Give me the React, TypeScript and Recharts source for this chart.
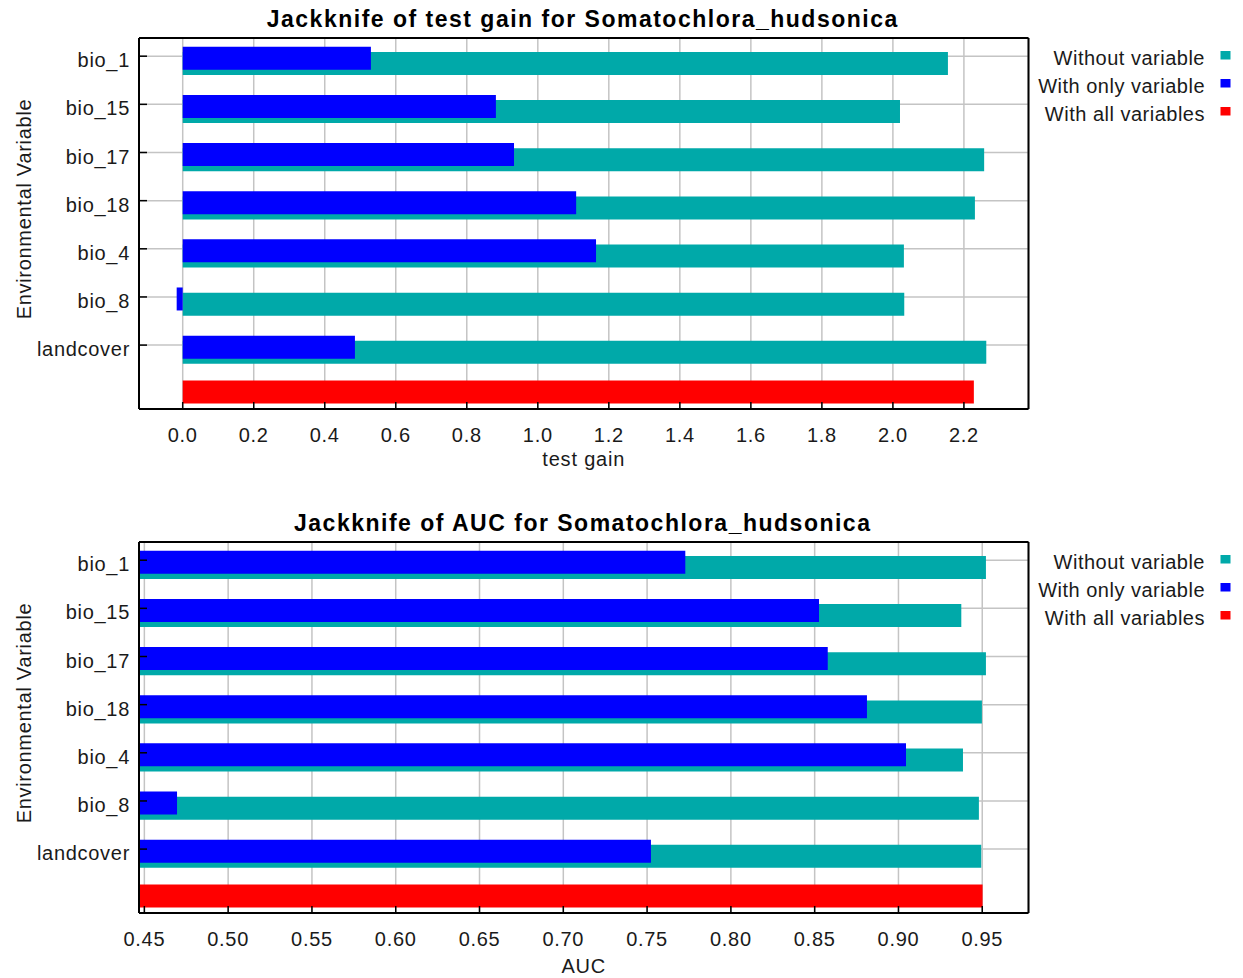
import React from 'react';
import { BarChart, Bar, XAxis, YAxis, CartesianGrid, Legend } from 'recharts';

// Variables in plot order (top to bottom); the last row holds the "all variables" bar
const variables = ['bio_1', 'bio_15', 'bio_17', 'bio_18', 'bio_4', 'bio_8', 'landcover'];
const ALL_ROW = 'all';
const seriesNames = ['Without variable', 'With only variable', 'With all variables'];

// Test gain jackknife
const gainWithout = [2.155, 2.02, 2.257, 2.231, 2.031, 2.032, 2.263];
const gainOnly = [0.53, 0.882, 0.933, 1.108, 1.164, -0.017, 0.485];
const gainAll = 2.228;
const gainTicks = [0, 0.2, 0.4, 0.6, 0.8, 1.0, 1.2, 1.4, 1.6, 1.8, 2.0, 2.2];
const gainDomain = [-0.1231, 2.3819];

// AUC jackknife
const aucWithout = [0.9522, 0.9375, 0.9522, 0.9498, 0.9385, 0.948, 0.9494];
const aucOnly = [0.7728, 0.8526, 0.8578, 0.8812, 0.9045, 0.4695, 0.7523];
const aucAll = 0.9502;
const aucTicks = [0.45, 0.5, 0.55, 0.6, 0.65, 0.7, 0.75, 0.8, 0.85, 0.9, 0.95];
const aucDomain = [0.4468, 0.9776];

const TEAL = '#00a9a9';
const BLUE = '#0000ff';
const RED = '#ff0000';
const FONT = '"Liberation Sans", Arial, Helvetica, sans-serif';

// band offsets (px) so the bar pairs sit like the original plot
const PAD_MAIN = { top: -5.875, bottom: -8.325 };
const PAD_BLUE = { top: -4.275, bottom: -9.925 };
const PAD_TEAL = { top: 0.925, bottom: -15.125 };
const PAD_RED = { top: -7.625, bottom: -6.575 };

function buildRows(without: number[], only: number[], all: number) {
  const rows: any[] = variables.map((name, i) => ({ name, without: without[i], only: only[i] }));
  rows.push({ name: ALL_ROW, all });
  return rows;
}

const renderLegend = (props: any) => {
  const payload = [...(props.payload || [])].sort(
    (a: any, b: any) => seriesNames.indexOf(a.value) - seriesNames.indexOf(b.value)
  );
  return (
    <svg width={243} height={130} style={{ display: 'block' }}>
      {payload.map((p: any, i: number) => (
        <g key={p.value}>
          <text
            x={205}
            y={65 + 28 * i}
            textAnchor="end"
            fontFamily={FONT}
            fontSize={20}
            letterSpacing={0.5}
            fill="#1a1a1a"
          >
            {p.value}
          </text>
          <rect x={220.5} y={51 + 28 * i} width={10} height={8.5} fill={p.color} />
        </g>
      ))}
    </svg>
  );
};

interface ChartProps {
  top: number;
  height: number;
  title: string;
  rows: any[];
  domain: number[];
  ticks: number[];
  digits: number;
  xLabel: string;
  xLabelDy: number;
}

function JackknifeChart({ top, height, title, rows, domain, ticks, digits, xLabel, xLabelDy }: ChartProps) {
  const axisLine = { stroke: '#000', strokeWidth: 2 };
  const tickLine = { stroke: '#000', strokeWidth: 1.5 };

  return (
    <div style={{ position: 'absolute', left: 0, top, width: 1243, height }}>
      <BarChart
        width={1243}
        height={height}
        data={rows}
        layout="vertical"
        barSize={23}
        margin={{ top: 37, right: 213.5, bottom: 0, left: 0 }}
      >
        <CartesianGrid xAxisId="bottom" yAxisId="main" stroke="#c4c4c4" strokeWidth={1.5} />
        <YAxis yAxisId="teal" hide width={0} type="category" dataKey="name" allowDuplicatedCategory={false} padding={PAD_TEAL} />
        <YAxis yAxisId="blue" hide width={0} type="category" dataKey="name" allowDuplicatedCategory={false} padding={PAD_BLUE} />
        <YAxis yAxisId="red" hide width={0} type="category" dataKey="name" allowDuplicatedCategory={false} padding={PAD_RED} />
        <Bar
          xAxisId="bottom"
          yAxisId="teal"
          dataKey="without"
          name={seriesNames[0]}
          fill={TEAL}
          isAnimationActive={false}
        />
        <Bar
          xAxisId="bottom"
          yAxisId="blue"
          dataKey="only"
          name={seriesNames[1]}
          fill={BLUE}
          isAnimationActive={false}
        />
        <Bar
          xAxisId="bottom"
          yAxisId="red"
          dataKey="all"
          name={seriesNames[2]}
          fill={RED}
          isAnimationActive={false}
        />
        <XAxis
          xAxisId="bottom"
          type="number"
          domain={domain}
          ticks={ticks}
          interval={0}
          allowDataOverflow
          height={height - 409}
          tickSize={-7}
          tickMargin={40}
          axisLine={axisLine}
          tickLine={tickLine}
          tick={(p: any) => (
            <text
              x={p.x}
              y={p.y}
              textAnchor="middle"
              fontFamily={FONT}
              fontSize={20}
              letterSpacing={0.7}
              fill="#1a1a1a"
            >
              {Number(p.payload.value).toFixed(digits)}
            </text>
          )}
          label={(p: any) => {
            const vb = p.viewBox || { x: 139, y: 409, width: 889.5 };
            return (
              <text
                x={vb.x + vb.width / 2}
                y={vb.y + xLabelDy}
                textAnchor="middle"
                fontFamily={FONT}
                fontSize={20}
                letterSpacing={0.8}
                fill="#1a1a1a"
              >
                {xLabel}
              </text>
            );
          }}
        />
        <XAxis
          xAxisId="top"
          orientation="top"
          type="number"
          domain={domain}
          ticks={ticks}
          interval={0}
          allowDataOverflow
          height={1}
          tickSize={-7}
          tick={false}
          axisLine={axisLine}
          tickLine={tickLine}
          label={(p: any) => {
            const vb = p.viewBox || { x: 139, y: 37, width: 889.5 };
            return (
              <text
                x={vb.x + vb.width / 2 - 1}
                y={vb.y - 10}
                textAnchor="middle"
                fontFamily={FONT}
                fontSize={23}
                fontWeight="bold"
                letterSpacing={1.5}
                fill="#000"
              >
                {title}
              </text>
            );
          }}
        />
        <YAxis
          yAxisId="main"
          type="category"
          dataKey="name"
          allowDuplicatedCategory={false}
          ticks={variables}
          interval={0}
          width={139}
          padding={PAD_MAIN}
          tickSize={-8}
          tickMargin={17}
          axisLine={axisLine}
          tickLine={tickLine}
          tick={(p: any) => (
            <text
              x={p.x}
              y={p.y + 11}
              textAnchor="end"
              fontFamily={FONT}
              fontSize={20}
              letterSpacing={0.7}
              fill="#1a1a1a"
            >
              {p.payload.value}
            </text>
          )}
          label={(p: any) => {
            const vb = p.viewBox || { x: 0, y: 38 };
            const cx = vb.x + 31;
            const cy = vb.y + 171;
            return (
              <text
                x={cx}
                y={cy}
                transform={`rotate(-90, ${cx}, ${cy})`}
                textAnchor="middle"
                fontFamily={FONT}
                fontSize={20}
                letterSpacing={0.7}
                fill="#1a1a1a"
              >
                Environmental Variable
              </text>
            );
          }}
        />
        <YAxis
          yAxisId="right"
          orientation="right"
          type="category"
          dataKey="name"
          allowDuplicatedCategory={false}
          ticks={variables}
          interval={0}
          width={1}
          padding={PAD_MAIN}
          tickSize={-8}
          tick={false}
          axisLine={axisLine}
          tickLine={tickLine}
        />
        <Legend
          layout="vertical"
          align="center"
          verticalAlign="middle"
          wrapperStyle={{ left: 1000, top: 0, width: 243, height: 130 }}
          content={renderLegend}
        />
      </BarChart>
    </div>
  );
}

export default function App() {
  const gainRows = buildRows(gainWithout, gainOnly, gainAll);
  const aucRows = buildRows(aucWithout, aucOnly, aucAll);

  return (
    <div style={{ position: 'absolute', left: 0, top: 0, width: 1243, height: 978, background: '#fff' }}>
      <JackknifeChart
        top={0}
        height={504}
        title="Jackknife of test gain for Somatochlora_hudsonica"
        rows={gainRows}
        domain={gainDomain}
        ticks={gainTicks}
        digits={1}
        xLabel="test gain"
        xLabelDy={57}
      />
      <JackknifeChart
        top={504}
        height={474}
        title="Jackknife of AUC for Somatochlora_hudsonica"
        rows={aucRows}
        domain={aucDomain}
        ticks={aucTicks}
        digits={2}
        xLabel="AUC"
        xLabelDy={60}
      />
    </div>
  );
}
